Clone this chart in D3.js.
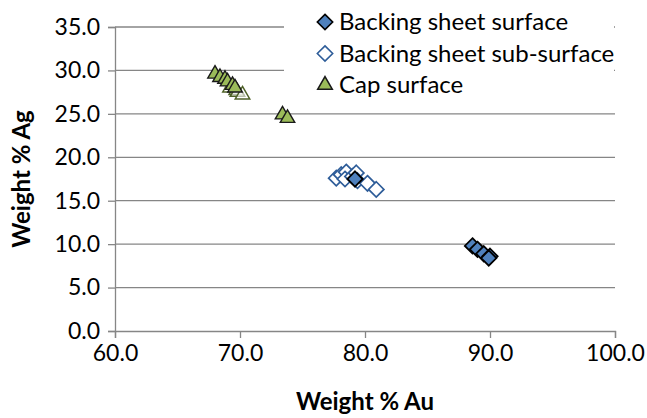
<!DOCTYPE html>
<html>
<head>
<meta charset="utf-8">
<script src="https://cdn.jsdelivr.net/npm/d3@7"></script>
<style>
  body { margin: 0; background: #fff; }
  svg { font-family: Lato, "Open Sans", sans-serif; }
</style>
</head>
<body>
<div id="chart"></div>
<script>
const width = 647;
const height = 418;

// data: [Au, Ag]
const surface = [[88.6, 9.8], [89.0, 9.4], [89.5, 8.9], [90.0, 8.6], [89.9, 8.4], [79.2, 17.5]];
const subSurface = [[77.7, 17.6], [78.1, 18.0], [78.5, 18.3], [78.4, 17.5], [79.0, 17.8],
  [79.3, 18.2], [79.4, 17.3], [80.2, 17.0], [80.9, 16.3]];
const capSurface = [[68.0, 29.6], [68.4, 29.2], [68.8, 29.0], [69.0, 28.7], [69.4, 28.3],
  [69.6, 28.0], [73.4, 24.9], [73.8, 24.5]];
const capOpen = [[69.2, 28.0], [69.7, 27.7], [69.8, 27.5], [70.2, 27.2]];

const xTicks = [60, 70, 80, 90, 100];
const yTicks = [0, 5, 10, 15, 20, 25, 30, 35];
const legendItems = ["Backing sheet surface", "Backing sheet sub-surface", "Cap surface"];

const svg = d3.select("#chart").append("svg")
  .attr("width", width).attr("height", height);

const x = d3.scaleLinear().domain([60, 100]).range([115, 615]);
const y = d3.scaleLinear().domain([0, 35]).range([331, 27]);

const grid = "#868686";

// gridlines
svg.append("g").selectAll("line")
  .data(yTicks.filter(d => d > 0))
  .join("line")
  .attr("x1", x(60)).attr("x2", x(100))
  .attr("y1", d => y(d)).attr("y2", d => y(d))
  .attr("stroke", grid).attr("stroke-width", 1.3);

// axes
const xAxis = svg.append("g")
  .attr("transform", `translate(0,${y(0)})`)
  .call(d3.axisBottom(x).tickValues(xTicks).tickFormat(d3.format(".1f")).tickSize(7).tickPadding(7));
const yAxis = svg.append("g")
  .attr("transform", `translate(${x(60)},0)`)
  .call(d3.axisLeft(y).tickValues(yTicks).tickFormat(d3.format(".1f")).tickSize(7).tickPadding(8));

[xAxis, yAxis].forEach(a => {
  a.select(".domain").attr("stroke", grid).attr("stroke-width", 1.3);
  a.selectAll(".tick line").attr("stroke", grid).attr("stroke-width", 1.3);
  a.selectAll(".tick text").attr("font-size", "23px").attr("fill", "#000")
    .attr("font-family", "Lato, sans-serif");
});

// legend background covers gridlines
svg.append("rect")
  .attr("x", 284).attr("y", 0).attr("width", 330).attr("height", 100)
  .attr("fill", "#fff");

const diamond = d3.symbol().type(d3.symbolDiamond2).size(150);
const triangle = d3.symbol().type(d3.symbolTriangle2).size(150);

// points
svg.append("g").selectAll("path")
  .data(capOpen).join("path")
  .attr("d", triangle)
  .attr("transform", d => `translate(${x(d[0])},${y(d[1])})`)
  .attr("fill", "#fff").attr("fill-opacity", 0.6)
  .attr("stroke", "#4F6228").attr("stroke-width", 1.5);

svg.append("g").selectAll("path")
  .data(capSurface).join("path")
  .attr("d", triangle)
  .attr("transform", d => `translate(${x(d[0])},${y(d[1])})`)
  .attr("fill", "#9BBB59").attr("stroke", "#1a1a1a").attr("stroke-width", 1.4);

svg.append("g").selectAll("path")
  .data(subSurface).join("path")
  .attr("d", diamond)
  .attr("transform", d => `translate(${x(d[0])},${y(d[1])})`)
  .attr("fill", "#fff").attr("stroke", "#2E5D99").attr("stroke-width", 1.7);

svg.append("g").selectAll("path")
  .data(surface).join("path")
  .attr("d", diamond)
  .attr("transform", d => `translate(${x(d[0])},${y(d[1])})`)
  .attr("fill", "#4F81BD").attr("stroke", "#000").attr("stroke-width", 1.8);

// axis titles
svg.append("text")
  .attr("x", x(80)).attr("y", 410)
  .attr("text-anchor", "middle")
  .attr("font-size", "24px").attr("font-weight", "bold")
  .text("Weight % Au");

svg.append("text")
  .attr("transform", `translate(30,${y(17.5)}) rotate(-90)`)
  .attr("text-anchor", "middle")
  .attr("font-size", "24px").attr("font-weight", "bold")
  .text("Weight % Ag");

// legend
const legend = svg.append("g").attr("transform", "translate(325,22)");
const legendMarks = [
  { sym: diamond, fill: "#4F81BD", stroke: "#000" },
  { sym: diamond, fill: "#fff", stroke: "#2E5D99" },
  { sym: triangle, fill: "#9BBB59", stroke: "#1a1a1a" }
];
const rows = legend.selectAll("g")
  .data(legendItems).join("g")
  .attr("transform", (d, i) => `translate(0,${i * 31.5})`);
rows.append("path")
  .attr("d", (d, i) => legendMarks[i].sym.size(150)())
  .attr("fill", (d, i) => legendMarks[i].fill)
  .attr("stroke", (d, i) => legendMarks[i].stroke)
  .attr("stroke-width", 1.6);
rows.append("text")
  .attr("x", 14).attr("dy", "0.35em")
  .attr("font-size", "24px")
  .text(d => d);
</script>
</body>
</html>
